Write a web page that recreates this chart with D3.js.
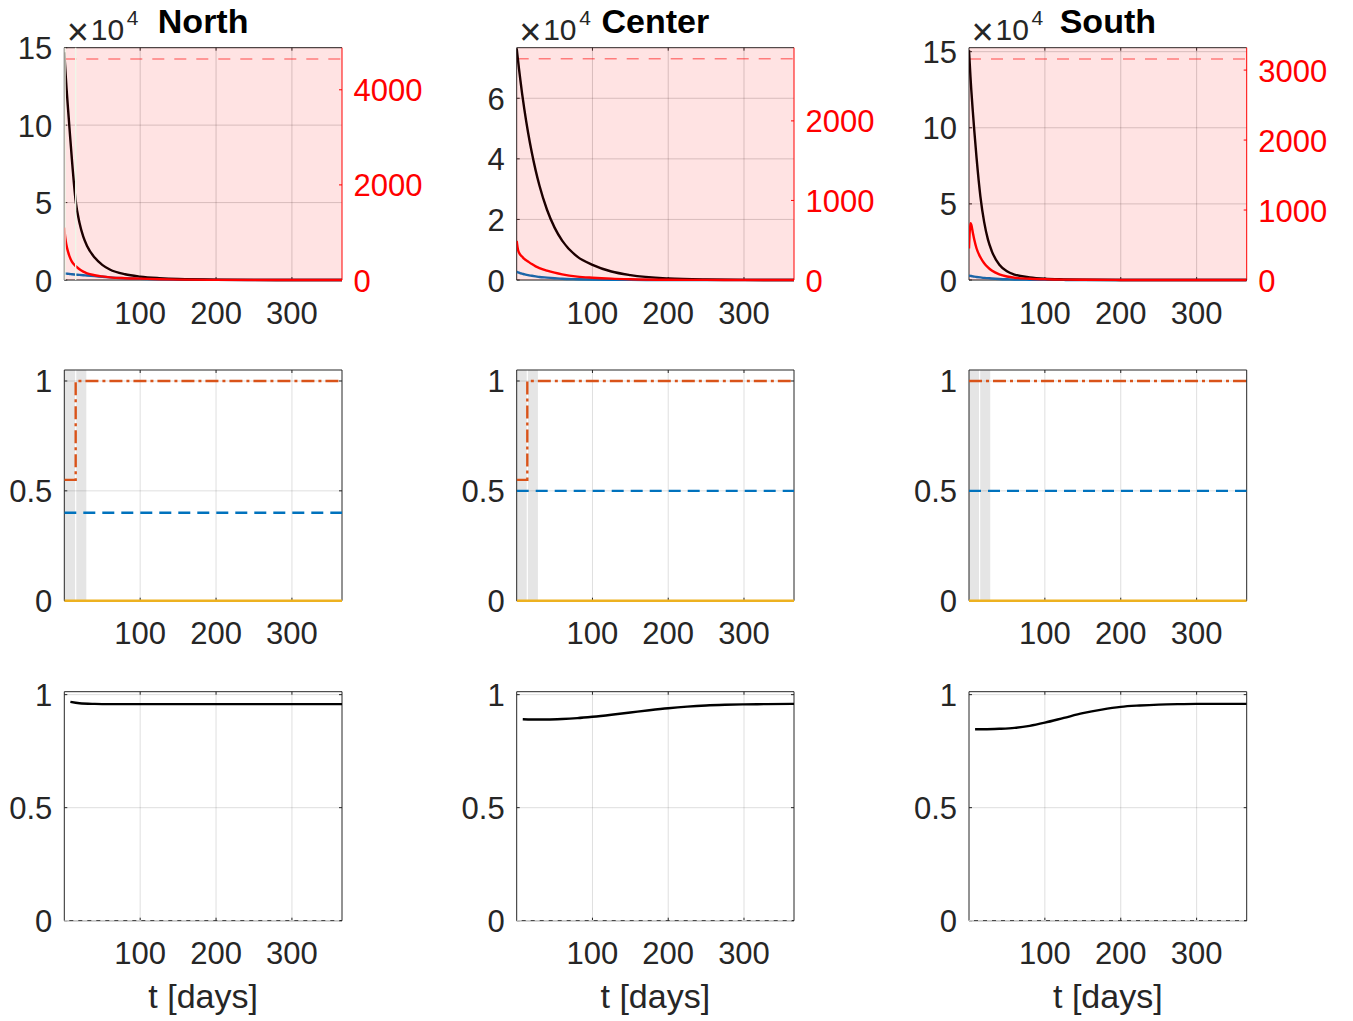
<!DOCTYPE html>
<html>
<head>
<meta charset="utf-8">
<script src="https://cdn.jsdelivr.net/npm/d3@7"></script>
<style>
  body { margin: 0; background: #fff; }
  svg text { font-family: "Liberation Sans", Arial, Helvetica, sans-serif; }
</style>
</head>
<body>
<svg id="chart"></svg>
<script>
// ---- data ----
const regions = ["North", "Center", "South"];
const tMax = 366;
const xTicks = [100, 200, 300];

// top row: occupancy curves, left axis in units of 1e4, right axis plain
const tTop = [0, 1, 2, 3, 5, 7, 10, 15, 20, 25, 30, 40, 50, 60, 80, 100, 125, 150, 200, 250, 300, 366];
const blackNorth  = [14.7, 13.9, 13.1, 12.35, 11.0, 9.7, 7.8, 5.1, 3.7, 2.8, 2.2, 1.45, 0.98, 0.68, 0.37, 0.22, 0.12, 0.06, 0.02, 0.01, 0, 0];
const blackCenter = [7.65, 7.42, 7.2, 6.98, 6.57, 6.18, 5.65, 4.87, 4.2, 3.62, 3.12, 2.32, 1.73, 1.3, 0.77, 0.5, 0.28, 0.16, 0.05, 0.015, 0.005, 0];
const blackSouth  = [15.1, 14.2, 13.3, 12.5, 11.1, 9.8, 8.0, 5.5, 3.8, 2.65, 1.9, 1.0, 0.58, 0.36, 0.17, 0.08, 0.04, 0.02, 0, 0, 0, 0];
const blueNorth   = [0.42, 0.42, 0.41, 0.41, 0.40, 0.39, 0.37, 0.35, 0.33, 0.31, 0.29, 0.25, 0.21, 0.17, 0.11, 0.07, 0.04, 0.02, 0.01, 0, 0, 0];
const blueCenter  = [0.27, 0.26, 0.25, 0.24, 0.22, 0.21, 0.19, 0.16, 0.14, 0.12, 0.10, 0.08, 0.06, 0.04, 0.025, 0.015, 0.01, 0.005, 0, 0, 0, 0];
const blueSouth   = [0.30, 0.28, 0.27, 0.26, 0.24, 0.22, 0.20, 0.17, 0.14, 0.12, 0.10, 0.07, 0.05, 0.035, 0.02, 0.01, 0.005, 0, 0, 0, 0, 0];
const redNorth    = [1100, 930, 810, 720, 590, 490, 385, 290, 225, 175, 140, 100, 75, 56, 38, 28, 15, 8, 2, 0, 0, 0];
const redCenter   = [490, 420, 370, 345, 315, 295, 265, 232, 200, 172, 150, 118, 92, 71, 43, 29, 17, 10, 3, 1, 0, 0];
const redSouth    = [450, 700, 810, 790, 680, 575, 450, 325, 240, 180, 135, 80, 50, 33, 18, 10, 5, 3, 1, 0, 0, 0];
const blackTop = [blackNorth, blackCenter, blackSouth];
const blueTop = [blueNorth, blueCenter, blueSouth];
const redTop = [redNorth, redCenter, redSouth];

const leftMax = [15, 7.67, 15.26];
const leftTicks = [[0, 5, 10, 15], [0, 2, 4, 6], [0, 5, 10, 15]];
const rightMax = [4885, 2920, 3320];
const rightTicks = [[0, 2000, 4000], [0, 1000, 2000], [0, 1000, 2000, 3000]];
const capacity = [4650, 2780, 3160];
const patchBreaks = [[1, 15], [], []];

// middle row: control levels
const bandEdges = [[0, 15, 29], [0, 14, 28], [0, 14, 28]];
const orangeT = [[0, 15, 366], [0, 14, 366], [0, 366]];
const orangeV = [[0.55, 1, 1], [0.55, 1, 1], [1, 1]];
const blueLevel = [0.4, 0.5, 0.5];
const yellowLevel = [0, 0, 0];

// bottom row: fraction
const tBot = [8, 20, 40, 60, 80, 100, 125, 150, 175, 200, 225, 250, 275, 300, 330, 366];
const fracNorth  = [0.968, 0.962, 0.959, 0.958, 0.958, 0.958, 0.958, 0.958, 0.958, 0.958, 0.958, 0.958, 0.958, 0.958, 0.958, 0.958];
const fracCenter = [0.891, 0.890, 0.890, 0.892, 0.896, 0.902, 0.911, 0.921, 0.931, 0.940, 0.947, 0.952, 0.955, 0.957, 0.958, 0.959];
const fracSouth  = [0.847, 0.847, 0.849, 0.853, 0.862, 0.876, 0.897, 0.918, 0.934, 0.946, 0.952, 0.956, 0.958, 0.959, 0.959, 0.959];
const fracBot = [fracNorth, fracCenter, fracSouth];
const unitTicks = [0, 0.5, 1];

// ---- layout ----
const width = 1353, height = 1021;
const cols = [[64.3, 342], [516.7, 794], [969, 1246.7]];
const rows = [[47.7, 280], [370, 600.7], [691.7, 920.7]];
const axisColor = "#262626";
const tickFont = 31;
const lw = 2.4;

const svg = d3.select("#chart").attr("width", width).attr("height", height);
const defs = svg.append("defs");

// clip to the plot box in x, a little slack in y so lines on the edges show
function clipFor(id, x, y) {
  defs.append("clipPath").attr("id", id).append("rect")
      .attr("x", x.range()[0]).attr("y", y.range()[1] - 3)
      .attr("width", x.range()[1] - x.range()[0])
      .attr("height", y.range()[0] - y.range()[1] + 6);
  return "url(#" + id + ")";
}

function grid(g, x, y, yT, op) {
  const [y0, y1] = y.range();
  g.append("g").selectAll("line").data(xTicks).join("line")
      .attr("x1", d => x(d)).attr("x2", d => x(d)).attr("y1", y0).attr("y2", y1)
      .attr("stroke", axisColor).attr("stroke-opacity", op);
  g.append("g").selectAll("line").data(yT).join("line")
      .attr("x1", x.range()[0]).attr("x2", x.range()[1]).attr("y1", d => y(d)).attr("y2", d => y(d))
      .attr("stroke", axisColor).attr("stroke-opacity", op);
}

function frame(g, x, y, yT, right) {
  const [xl, xr] = x.range(), [yb, yt] = y.range();
  const tl = 3;
  const rc = right ? "#ff0000" : axisColor;
  g.append("line").attr("x1", xl).attr("x2", xr).attr("y1", yb).attr("y2", yb).attr("stroke", axisColor);
  g.append("line").attr("x1", xl).attr("x2", xr).attr("y1", yt).attr("y2", yt).attr("stroke", axisColor);
  g.append("line").attr("x1", xl).attr("x2", xl).attr("y1", yb).attr("y2", yt).attr("stroke", axisColor);
  g.append("line").attr("x1", xr).attr("x2", xr).attr("y1", yb).attr("y2", yt).attr("stroke", rc);
  // x ticks, bottom and top, inward
  xTicks.forEach(t => {
    g.append("line").attr("x1", x(t)).attr("x2", x(t)).attr("y1", yb).attr("y2", yb - tl).attr("stroke", axisColor);
    g.append("line").attr("x1", x(t)).attr("x2", x(t)).attr("y1", yt).attr("y2", yt + tl).attr("stroke", axisColor);
    g.append("text").attr("x", x(t)).attr("y", yb + 43.5).attr("text-anchor", "middle")
        .attr("font-size", tickFont).attr("fill", axisColor).text(t);
  });
  yT.forEach(v => {
    g.append("line").attr("x1", xl).attr("x2", xl + tl).attr("y1", y(v)).attr("y2", y(v)).attr("stroke", axisColor);
    if (!right) g.append("line").attr("x1", xr).attr("x2", xr - tl).attr("y1", y(v)).attr("y2", y(v)).attr("stroke", axisColor);
    g.append("text").attr("x", xl - 12).attr("y", y(v) + 11.5).attr("text-anchor", "end")
        .attr("font-size", tickFont).attr("fill", axisColor).text(v);
  });
  if (right) {
    right.ticks.forEach(v => {
      g.append("line").attr("x1", xr).attr("x2", xr - tl).attr("y1", right.y(v)).attr("y2", right.y(v)).attr("stroke", "#ff0000");
      g.append("text").attr("x", xr + 11.5).attr("y", right.y(v) + 11.5).attr("text-anchor", "start")
          .attr("font-size", tickFont).attr("fill", "#ff0000").text(v);
    });
  }
}

regions.forEach((name, i) => {
  const x = d3.scaleLinear().domain([0, tMax]).range(cols[i]);
  const xl = x.range()[0];

  // ---------- top row ----------
  {
    const g = svg.append("g");
    const yL = d3.scaleLinear().domain([0, leftMax[i]]).range([rows[0][1], rows[0][0]]);
    const yR = d3.scaleLinear().domain([0, rightMax[i]]).range([rows[0][1], rows[0][0]]);
    grid(g, x, yL, leftTicks[i], 0.2);
    frame(g, x, yL, leftTicks[i], { y: yR, ticks: rightTicks[i] });
    const lines = g.append("g").attr("clip-path", clipFor("c0" + i, x, yL));
    lines.append("line").attr("x1", x(0)).attr("x2", x(tMax))
        .attr("y1", yR(capacity[i])).attr("y2", yR(capacity[i]))
        .attr("stroke", "#ff0000").attr("stroke-opacity", 0.45)
        .attr("stroke-width", 1.5).attr("stroke-dasharray", "12,10");
    const lineL = d3.line().x((d, k) => x(tTop[k])).y(d => yL(d)).curve(d3.curveMonotoneX);
    const lineR = d3.line().x((d, k) => x(tTop[k])).y(d => yR(d)).curve(d3.curveMonotoneX);
    lines.append("path").attr("d", lineL(blueTop[i])).attr("fill", "none").attr("stroke", "#0072bd").attr("stroke-width", lw);
    lines.append("path").attr("d", lineL(blackTop[i])).attr("fill", "none").attr("stroke", "#000").attr("stroke-width", lw);
    lines.append("path").attr("d", lineR(redTop[i])).attr("fill", "none").attr("stroke", "#ff0000").attr("stroke-width", lw);
    // translucent red patch over everything
    g.append("rect").attr("x", x(0)).attr("y", yL.range()[1])
        .attr("width", x(tMax) - x(0)).attr("height", yL.range()[0] - yL.range()[1])
        .attr("fill", "#ff0000").attr("fill-opacity", 0.11);
    patchBreaks[i].forEach(t => {
      g.append("line").attr("x1", x(t)).attr("x2", x(t)).attr("y1", yL.range()[0]).attr("y2", yL.range()[1])
          .attr("stroke", "#eef7e9").attr("stroke-width", 1.3);
    });

    // x10^4 multiplier and title
    g.append("text").attr("x", xl + 2.5).attr("y", 45).attr("font-size", 38)
        .attr("fill", axisColor).text("\u00d7");
    g.append("text").attr("x", xl + 26.5).attr("y", 40).attr("font-size", 30)
        .attr("fill", axisColor).text("10");
    g.append("text").attr("x", xl + 62.5).attr("y", 25).attr("font-size", 21)
        .attr("fill", axisColor).text("4");
    g.append("text").attr("x", (x.range()[0] + x.range()[1]) / 2).attr("y", 33.3)
        .attr("text-anchor", "middle").attr("font-size", 34).attr("font-weight", "bold")
        .attr("fill", "#000").text(name);
  }

  // ---------- middle row ----------
  {
    const g = svg.append("g");
    const y = d3.scaleLinear().domain([0, 1.05]).range([rows[1][1], rows[1][0]]);
    const e = bandEdges[i];
    for (let k = 0; k < e.length - 1; k++) {
      g.append("rect").attr("x", x(e[k]) + (k ? 0.6 : 0)).attr("y", y(1.05))
          .attr("width", x(e[k + 1]) - x(e[k]) - 0.6).attr("height", y(0) - y(1.05))
          .attr("fill", "#e5e5e5");
    }
    grid(g, x, y, unitTicks, 0.15);
    frame(g, x, y, unitTicks, null);
    const lines = g.append("g").attr("clip-path", clipFor("c1" + i, x, y));
    lines.append("line").attr("x1", x(0)).attr("x2", x(tMax))
        .attr("y1", y(blueLevel[i])).attr("y2", y(blueLevel[i]))
        .attr("stroke", "#0072bd").attr("stroke-width", lw).attr("stroke-dasharray", "12,7");
    const step = d3.line().x(d => x(d[0])).y(d => y(d[1])).curve(d3.curveStepAfter);
    lines.append("path").attr("d", step(d3.zip(orangeT[i], orangeV[i])))
        .attr("fill", "none").attr("stroke", "#d95319").attr("stroke-width", lw)
        .attr("stroke-dasharray", "13,4,3,4");
    lines.append("line").attr("x1", x(0)).attr("x2", x(tMax))
        .attr("y1", y(yellowLevel[i])).attr("y2", y(yellowLevel[i]))
        .attr("stroke", "#edb120").attr("stroke-width", 2.5);
  }

  // ---------- bottom row ----------
  {
    const g = svg.append("g");
    const y = d3.scaleLinear().domain([0, 1.013]).range([rows[2][1], rows[2][0]]);
    grid(g, x, y, unitTicks, 0.15);
    frame(g, x, y, unitTicks, null);
    const lines = g.append("g").attr("clip-path", clipFor("c2" + i, x, y));
    const ln = d3.line().x((d, k) => x(tBot[k])).y(d => y(d)).curve(d3.curveMonotoneX);
    lines.append("path").attr("d", ln(fracBot[i])).attr("fill", "none").attr("stroke", "#000").attr("stroke-width", lw);
    lines.append("line").attr("x1", x(0)).attr("x2", x(tMax)).attr("y1", y(0)).attr("y2", y(0))
        .attr("stroke", "#e8e8e8").attr("stroke-width", 1).attr("stroke-dasharray", "5,4");
    g.append("text").attr("x", (x.range()[0] + x.range()[1]) / 2).attr("y", 1008)
        .attr("text-anchor", "middle").attr("font-size", 34).attr("fill", axisColor).text("t [days]");
  }
});
</script>
</body>
</html>
